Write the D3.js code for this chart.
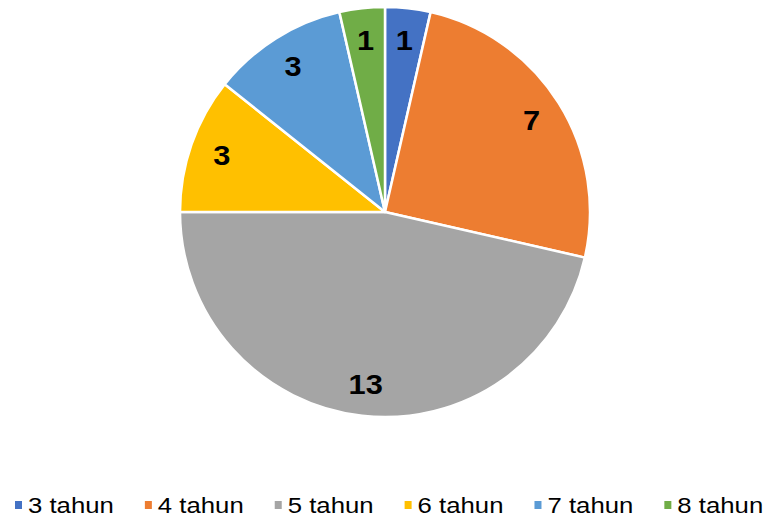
<!DOCTYPE html>
<html>
<head>
<meta charset="utf-8">
<script src="https://cdn.jsdelivr.net/npm/d3@7"></script>
<style>
  html, body { margin: 0; padding: 0; background: #fff; }
  svg { display: block; }
</style>
</head>
<body>
<svg id="chart" width="769" height="517"></svg>
<script>
const categories = ["3 tahun", "4 tahun", "5 tahun", "6 tahun", "7 tahun", "8 tahun"];
const values = [1, 7, 13, 3, 3, 1];
const colors = ["#4472C4", "#ED7D31", "#A5A5A5", "#FFC000", "#5B9BD5", "#70AD47"];

const svg = d3.select("#chart");
const cx = 385, cy = 212, R = 205;

const pie = d3.pie().sort(null).value(d => d.v);
const data = pie(categories.map((c, i) => ({c, v: values[i], col: colors[i]})));
const arc = d3.arc().innerRadius(0).outerRadius(R);
const labelArc = d3.arc().innerRadius(173).outerRadius(173);

const g = svg.append("g").attr("transform", `translate(${cx},${cy})`);
g.selectAll("path").data(data).join("path")
  .attr("d", arc)
  .attr("fill", d => d.data.col)
  .attr("stroke", "#fff")
  .attr("stroke-width", 2.5)
  .attr("stroke-linejoin", "round");

g.selectAll("text.lbl").data(data).join("text")
  .attr("class", "lbl")
  .attr("transform", d => { const [x, y] = labelArc.centroid(d); return `translate(${x},${y}) scale(1.1,1)`; })
  .attr("text-anchor", "middle")
  .attr("dy", "0.36em")
  .attr("font-family", "Liberation Sans, Arial, sans-serif")
  .attr("font-weight", "bold")
  .attr("font-size", 28)
  .attr("fill", "#000")
  .text(d => d.data.v);

// legend
const legend = svg.append("g");
const fs = 22, sx = 1.17;
const items = legend.selectAll("g").data(categories).join("g");
items.append("rect").attr("width", 7).attr("height", 8).attr("y", 501)
  .attr("fill", (d, i) => colors[i]);
items.append("text")
  .attr("transform", "translate(13,513) scale(" + sx + ",1)")
  .attr("font-family", "Liberation Sans, Arial, sans-serif")
  .attr("font-size", fs).attr("fill", "#000").text(d => d);
let x = 15;
items.each(function() {
  const w = d3.select(this).select("text").node().getComputedTextLength() * sx;
  d3.select(this).attr("transform", `translate(${x},0)`);
  x += 13 + w + 31;
});
</script>
</body>
</html>
